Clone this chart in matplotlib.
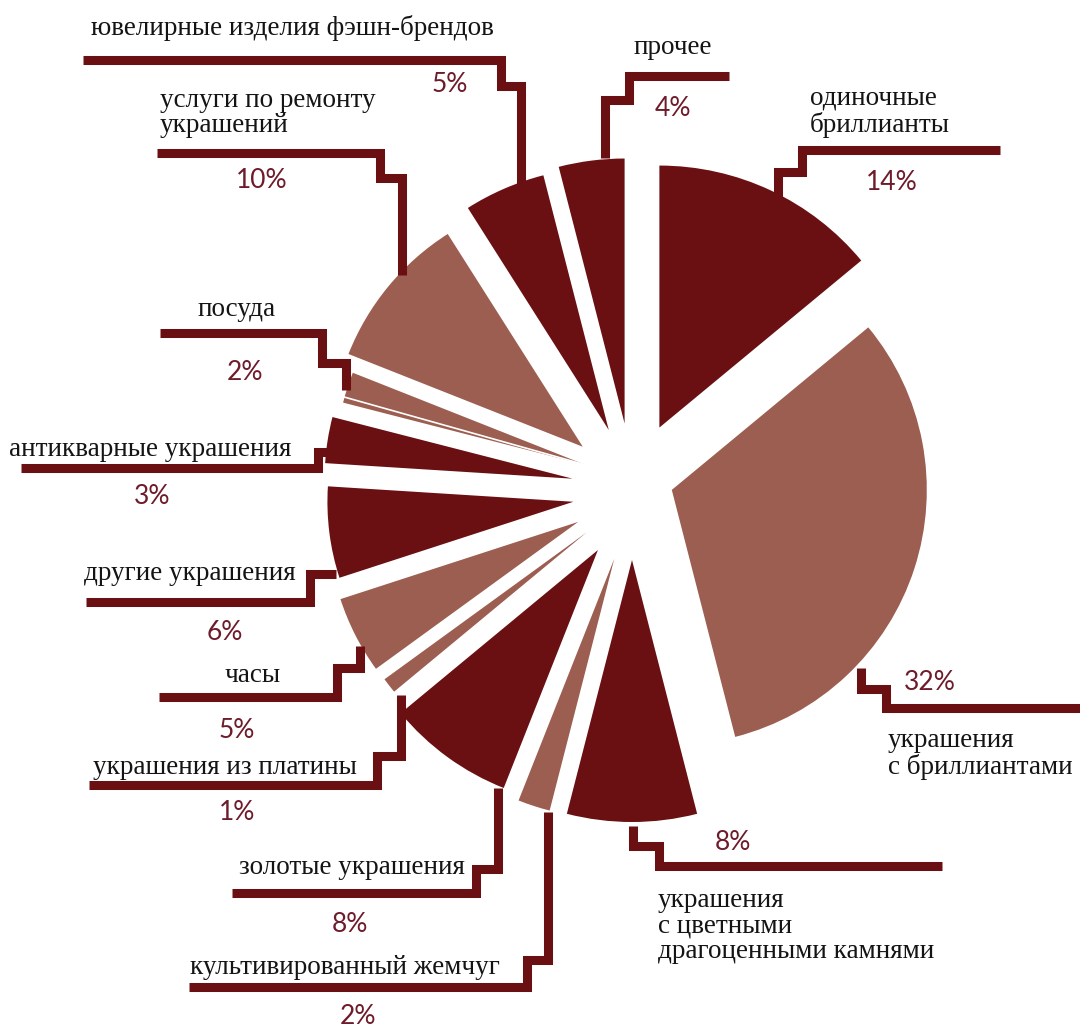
import numpy as np
import matplotlib.pyplot as plt
from matplotlib.patches import Wedge

# categories, clockwise from 12 o'clock
labels = ['одиночные\nбриллианты', 'украшения\nс бриллиантами',
          'украшения\nс цветными\nдрагоценными камнями', 'культивированный жемчуг',
          'золотые украшения', 'украшения из платины', 'часы', 'другие украшения',
          'антикварные украшения', 'посуда', 'услуги по ремонту\nукрашений',
          'ювелирные изделия фэшн-брендов', 'прочее']
shares = [14, 32, 8, 2, 8, 1, 5, 6, 3, 2, 10, 5, 4]

DARK = '#6B1012'
LIGHT = '#9C5E50'
colors = [DARK, LIGHT, DARK, LIGHT, DARK, LIGHT, LIGHT, DARK, DARK, LIGHT, LIGHT, DARK, DARK]

# layout (pixel coords, y measured from top)
W, H = 1080, 1030
center = (625, 490)
explode = [69, 45, 70, 67, 63, 56, 57, 54, 53, 46, 60, 61, 67]
nudge = [(5, 0), (4, -14), (7, 0), (10, 5), (10, 9), (6, 8), (4, 6), (2, 5),
         (0, -3), (4, -11), (4, -5), (8, -4), (8, 0)]
radius = [262, 255, 262, 260, 256, 250, 250, 246, 248, 250, 252, 263, 265]

leaders = [
    [(778, 200), (778, 172), (802, 172), (802, 150), (1000, 150)],
    [(861, 668), (861, 689), (886, 689), (886, 708), (1080, 708)],
    [(633, 826), (633, 846), (659, 846), (659, 866), (942, 866)],
    [(548, 812), (548, 960), (527, 960), (527, 987), (189, 987)],
    [(498, 788), (498, 869), (476, 869), (476, 893), (232, 893)],
    [(401, 695), (401, 756), (377, 756), (377, 785), (89, 785)],
    [(360, 646), (360, 668), (337, 668), (337, 697), (159, 697)],
    [(336, 574), (310, 574), (310, 602), (86, 602)],
    [(333, 452), (318, 452), (318, 468), (21, 468)],
    [(346, 390), (346, 363), (322, 363), (322, 333), (160, 333)],
    [(402, 275), (402, 178), (380, 178), (380, 153), (157, 153)],
    [(521, 185), (521, 86), (501, 86), (501, 60), (83, 60)],
    [(605, 158), (605, 100), (629, 100), (629, 76), (729, 76)],
]

# label text: (x, y, ha)
label_pos = [(810, 112, 'left'), (888, 754, 'left'), (658, 926, 'left'),
             (345, 967, 'center'), (352, 868, 'center'), (225, 768, 'center'),
             (253, 676, 'center'), (190, 573, 'center'), (150, 450, 'center'),
             (237, 310, 'center'), (160, 113, 'left'), (292, 28, 'center'),
             (673, 48, 'center')]
pct_pos = [(892, 182), (930, 682), (733, 843), (358, 1017), (350, 925),
           (237, 813), (237, 731), (225, 632), (152, 497), (245, 372),
           (262, 180), (450, 85), (673, 108)]

fig = plt.figure(figsize=(W / 100, H / 100), dpi=100)
ax = fig.add_axes([0, 0, 1, 1])
ax.set_xlim(0, W)
ax.set_ylim(0, H)
ax.axis('off')

def P(x, y):
    return x, H - y

cx, cy = P(*center)
start = 90.0
for i, v in enumerate(shares):
    span = v / sum(shares) * 360
    t2 = start
    t1 = start - span
    mid = np.radians((t1 + t2) / 2)
    c = (cx + explode[i] * np.cos(mid) + nudge[i][0],
         cy + explode[i] * np.sin(mid) - nudge[i][1])
    ax.add_patch(Wedge(c, radius[i], t1, t2, facecolor=colors[i], edgecolor='none'))
    if labels[i] == 'посуда':
        # thin white split inside the wedge
        a = np.radians(t2 - 1.3)
        ax.plot([c[0], c[0] + radius[i] * np.cos(a)], [c[1], c[1] + radius[i] * np.sin(a)],
                color='white', lw=1.2)
    start = t1

for i in range(len(labels)):
    xs, ys = zip(*[P(x, y) for x, y in leaders[i]])
    ax.plot(xs, ys, color=DARK, lw=6.5, solid_joinstyle='miter', solid_capstyle='butt')
    lx, ly, ha = label_pos[i]
    ax.text(*P(lx, ly), labels[i], ha=ha, va='center', fontsize=19.5,
            family='Liberation Serif', color='#141414', linespacing=1.05)
    ax.text(*P(*pct_pos[i]), f'{shares[i]}%', ha='center', va='center', fontsize=19,
            family='Lato', color='#6E1B2A')

fig.savefig('out.png', dpi=100)
